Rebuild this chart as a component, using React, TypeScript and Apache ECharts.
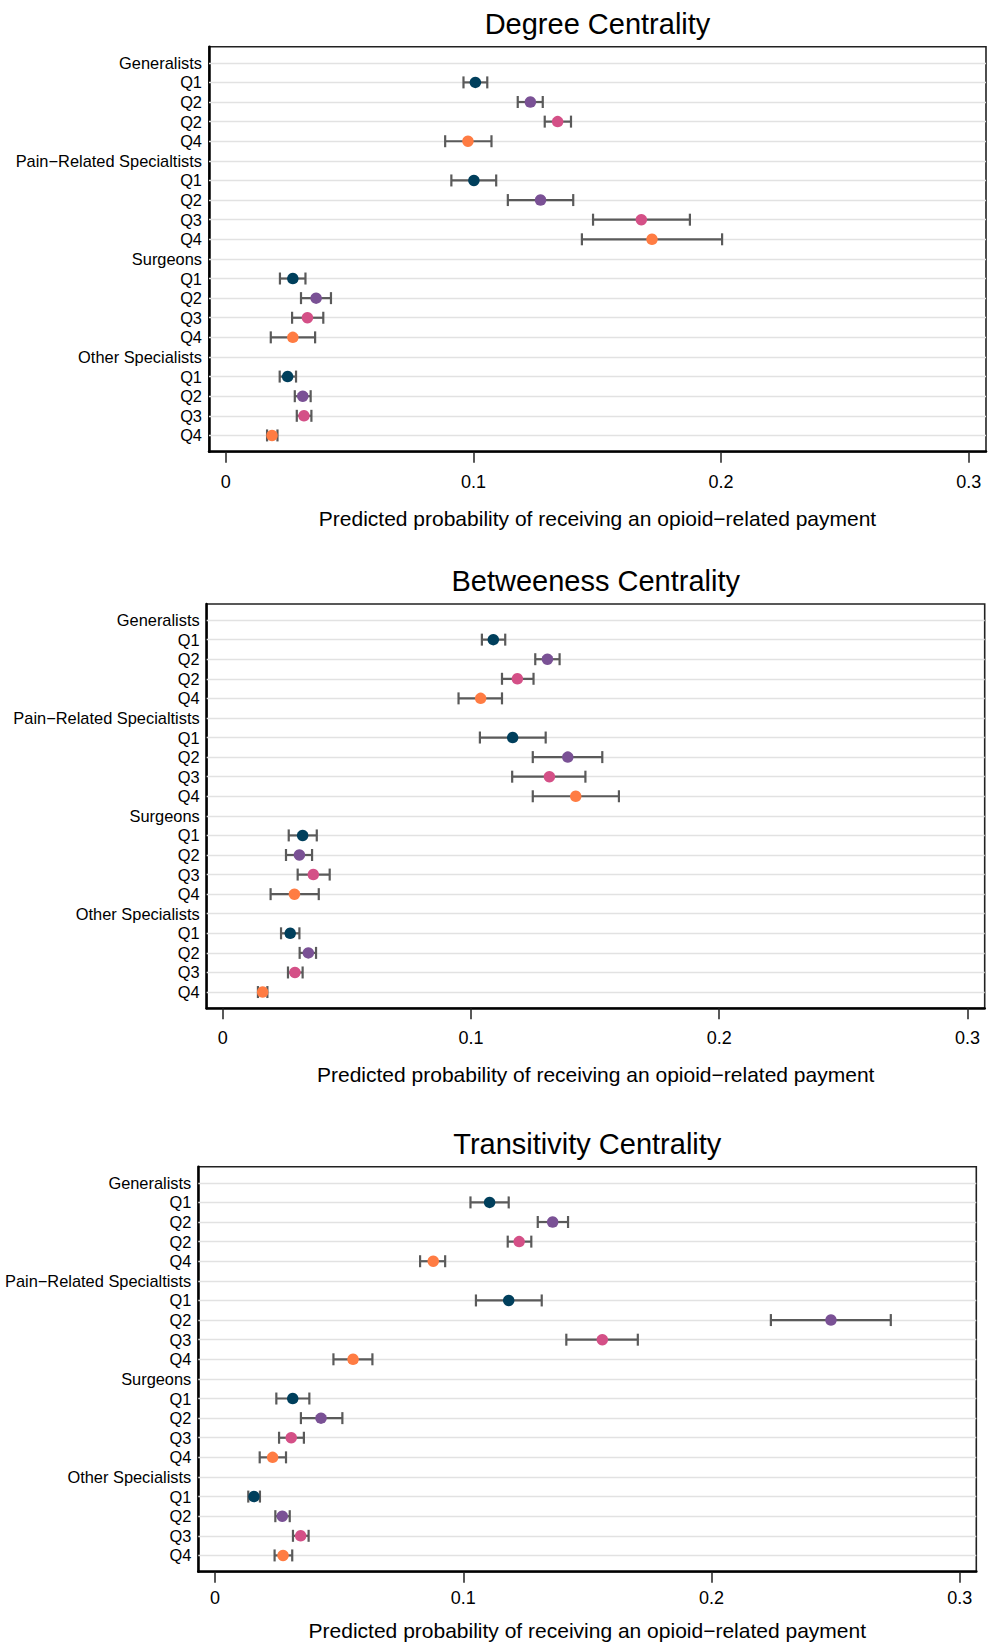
import React, { useEffect, useRef } from "react";
import * as echarts from "echarts";

const rowLabels = [
  "Generalists", "Q1", "Q2", "Q2", "Q4",
  "Pain−Related Specialtists", "Q1", "Q2", "Q3", "Q4",
  "Surgeons", "Q1", "Q2", "Q3", "Q4",
  "Other Specialists", "Q1", "Q2", "Q3", "Q4",
];
const dataRows = [1, 2, 3, 4, 6, 7, 8, 9, 11, 12, 13, 14, 16, 17, 18, 19];
const quartileOfRow = [0, 1, 2, 3, 0, 1, 2, 3, 0, 1, 2, 3, 0, 1, 2, 3];
const quartileColors = ["#003f5c", "#7a5195", "#d45087", "#ff7c43"];
const xTicks = [0, 0.1, 0.2, 0.3];
const panelTitles = ["Degree Centrality", "Betweeness Centrality", "Transitivity Centrality"];
const xAxisTitle = "Predicted probability of receiving an opioid−related payment";

const degreeEst = [0.1008, 0.123, 0.134, 0.0978, 0.1002, 0.1271, 0.1678, 0.1721, 0.0271, 0.0365, 0.033, 0.0271, 0.025, 0.0311, 0.0316, 0.0187];
const degreeLo = [0.096, 0.1179, 0.1288, 0.0886, 0.0911, 0.1139, 0.1483, 0.1438, 0.0219, 0.0304, 0.0268, 0.0182, 0.0218, 0.0279, 0.0287, 0.0167];
const degreeHi = [0.1056, 0.128, 0.1394, 0.1073, 0.1092, 0.1403, 0.1874, 0.2004, 0.0322, 0.0425, 0.0394, 0.0361, 0.0284, 0.0343, 0.0346, 0.0209];

const betweenEst = [0.109, 0.1308, 0.1187, 0.1039, 0.1168, 0.139, 0.1316, 0.1422, 0.0322, 0.0309, 0.0365, 0.0289, 0.0272, 0.0345, 0.0291, 0.0161];
const betweenLo = [0.1044, 0.1259, 0.1125, 0.095, 0.1036, 0.1249, 0.1166, 0.1249, 0.0266, 0.0255, 0.0302, 0.0193, 0.0235, 0.031, 0.0263, 0.0142];
const betweenHi = [0.1138, 0.1357, 0.1252, 0.1125, 0.1301, 0.1529, 0.1461, 0.1596, 0.0379, 0.036, 0.0431, 0.0387, 0.0309, 0.0376, 0.0322, 0.018];

const transEst = [0.1106, 0.136, 0.1225, 0.0879, 0.1183, 0.2481, 0.156, 0.0556, 0.0313, 0.0427, 0.0307, 0.0232, 0.0157, 0.0271, 0.0345, 0.0274];
const transLo = [0.1029, 0.13, 0.1179, 0.0826, 0.1051, 0.2239, 0.1415, 0.0477, 0.0247, 0.0346, 0.0258, 0.018, 0.0134, 0.0243, 0.0314, 0.024];
const transHi = [0.1183, 0.1422, 0.1274, 0.0927, 0.1316, 0.2722, 0.1703, 0.0634, 0.038, 0.0513, 0.0358, 0.0286, 0.0181, 0.0301, 0.0377, 0.0311];

const FONT = "'Liberation Sans', Helvetica, Arial, sans-serif";

const panels = [
  { est: degreeEst, lo: degreeLo, hi: degreeHi, left: 209, top: 46.7, width: 777, height: 405, xmin: -0.00674, xmax: 0.30694, labelMargin: 21, titleY: 23.7, nameY: 518 },
  { est: betweenEst, lo: betweenLo, hi: betweenHi, left: 206.7, top: 604, width: 778, height: 404.3, xmin: -0.00644, xmax: 0.30693, labelMargin: 20.5, titleY: 581, nameY: 1074 },
  { est: transEst, lo: transLo, hi: transHi, left: 198.3, top: 1166.7, width: 778, height: 405, xmin: -0.00673, xmax: 0.30664, labelMargin: 17.6, titleY: 1143.7, nameY: 1630 },
];

export default function App() {
  const ref = useRef<HTMLDivElement>(null);
  useEffect(() => {
    if (!ref.current) return;
    const chart = echarts.init(ref.current, null, { renderer: "svg" });
    const grids: any[] = [];
    const xAxes: any[] = [];
    const yAxes: any[] = [];
    const series: any[] = [];
    const graphics: any[] = [];
    panels.forEach((p, k) => {
      grids.push({
        left: p.left, top: p.top, width: p.width, height: p.height,
        show: true, borderColor: "#222", borderWidth: 1.6, backgroundColor: "#fff",
      });
      xAxes.push({
        type: "value", gridIndex: k, position: "bottom", min: p.xmin, max: p.xmax,
        axisLine: { show: true, onZero: false, lineStyle: { color: "#000", width: 2.5 } },
        axisTick: { show: true, customValues: xTicks, length: 11, lineStyle: { color: "#222", width: 1.5 } },
        axisLabel: {
          customValues: xTicks, margin: p.labelMargin, fontSize: 18, color: "#000", fontFamily: FONT,
          formatter: (v: number) => String(Math.round(v * 10) / 10),
        },
        splitLine: { show: false },
      });
      yAxes.push({
        type: "value", gridIndex: k, inverse: true, min: -0.82, max: 19.83,
        axisLine: { show: true, onZero: false, lineStyle: { color: "#000", width: 2.5 } },
        axisTick: { show: false },
        axisLabel: {
          customValues: rowLabels.map((_, i) => i), margin: 7, fontSize: 16.4, color: "#000", fontFamily: FONT,
          formatter: (v: number) => rowLabels[Math.round(v)] ?? "",
        },
        splitLine: { show: false },
      });
      series.push({
        type: "line", xAxisIndex: k, yAxisIndex: k, data: [], z: 1, silent: true,
        markLine: {
          z: 1,
          silent: true, symbol: ["none", "none"], label: { show: false }, animation: false,
          lineStyle: { color: "#e2e2e2", width: 1.3, type: "solid" },
          data: rowLabels.map((_, i) => ({ yAxis: i })),
        },
      });
      series.push({
        type: "custom", xAxisIndex: k, yAxisIndex: k, z: 6,
        encode: { x: [0, 1], y: 2 },
        data: dataRows.map((r, i) => [p.lo[i], p.hi[i], r]),
        renderItem: (params: any, api: any) => {
          const y = api.value(2);
          const a = api.coord([api.value(0), y]);
          const b = api.coord([api.value(1), y]);
          const h = 6;
          const style = { stroke: "#5a5a5a", lineWidth: 2.2, fill: "none" };
          return {
            type: "group",
            children: [
              { type: "line", shape: { x1: a[0], y1: a[1], x2: b[0], y2: b[1] }, style },
              { type: "line", shape: { x1: a[0], y1: a[1] - h, x2: a[0], y2: a[1] + h }, style },
              { type: "line", shape: { x1: b[0], y1: b[1] - h, x2: b[0], y2: b[1] + h }, style },
            ],
          };
        },
      });
      series.push({
        type: "scatter", xAxisIndex: k, yAxisIndex: k, z: 7, symbolSize: 11.5,
        data: dataRows.map((r, i) => ({
          value: [p.est[i], r],
          itemStyle: { color: quartileColors[quartileOfRow[i]], opacity: 1 },
        })),
      });
      graphics.push({
        type: "text", x: p.left + p.width / 2, y: p.titleY,
        style: { text: panelTitles[k], fontSize: 29, fontFamily: FONT, fill: "#000", textAlign: "center", textVerticalAlign: "middle" },
      });
      graphics.push({
        type: "text", x: p.left + p.width / 2, y: p.nameY,
        style: { text: xAxisTitle, fontSize: 21, fontFamily: FONT, fill: "#000", textAlign: "center", textVerticalAlign: "middle" },
      });
    });
    chart.setOption({
      animation: false,
      backgroundColor: "#fff",
      grid: grids,
      xAxis: xAxes,
      yAxis: yAxes,
      series,
      graphic: graphics,
    });
    return () => chart.dispose();
  }, []);
  return (
    <div
      ref={ref}
      style={{ position: "absolute", left: 0, top: 0, width: 990, height: 1642 }}
    />
  );
}
